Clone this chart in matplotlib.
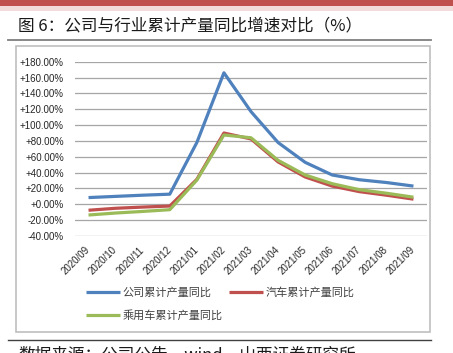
import matplotlib
matplotlib.use("Agg")
import matplotlib.pyplot as plt
from matplotlib.lines import Line2D
from matplotlib.patches import Rectangle
from matplotlib.ticker import FuncFormatter

plt.rcParams['font.family'] = ['Noto Sans CJK SC', 'DejaVu Sans']

# 数据
months = ["2020/09", "2020/10", "2020/11", "2020/12", "2021/01", "2021/02", "2021/03",
          "2021/04", "2021/05", "2021/06", "2021/07", "2021/08", "2021/09"]
company = [8.5, 10.0, 11.5, 12.8, 78.0, 166.0, 117.0, 78.0, 53.0, 37.0, 31.0, 27.5, 23.0]
auto = [-7.5, -5.0, -3.5, -2.2, 31.5, 90.0, 82.5, 53.5, 34.5, 23.0, 16.0, 11.5, 6.5]
passenger = [-13.5, -11.0, -9.0, -6.8, 30.5, 87.5, 84.0, 55.5, 37.0, 26.0, 18.5, 14.0, 9.0]

W, H = 453, 353
fig = plt.figure(figsize=(W / 100, H / 100), dpi=100)


def fx(x):
    return x / W


def fy(y):
    return 1 - y / H


# 顶部色条
fig.patches.append(Rectangle((0, fy(6)), 1, 6 / H, transform=fig.transFigure,
                             facecolor="#C0504D", edgecolor="none"))
fig.patches.append(Rectangle((0, fy(11)), 1, 5 / H, transform=fig.transFigure,
                             facecolor="#F2DCDB", edgecolor="none"))

fig.text(fx(18), fy(26), "图 6：公司与行业累计产量同比增速对比（%）", fontsize=12,
         color="#1a1a1a", va="center", ha="left")
fig.lines.append(Line2D([fx(8), fx(431)], [fy(40), fy(40)], transform=fig.transFigure,
                        color="#7F7F7F", lw=1.3))
fig.patches.append(Rectangle((fx(16), fy(332)), fx(430) - fx(16), fy(46) - fy(332),
                             transform=fig.transFigure, facecolor="none",
                             edgecolor="#BFBFBF", lw=1.2))
fig.lines.append(Line2D([fx(8), fx(431)], [fy(340), fy(340)], transform=fig.transFigure,
                        color="#404040", lw=1.0))
# 底部来源（原图中被截断）
fig.text(fx(18), fy(346), "数据来源：公司公告，wind，山西证券研究所", fontsize=12,
         color="#1a1a1a", va="top", ha="left")

# 图表区
ax = fig.add_axes([fx(75), fy(236), fx(427) - fx(75), fy(61.7) - fy(236)])
x = list(range(len(months)))
l1, = ax.plot(x, company, color="#4F81BD", lw=2.3, solid_capstyle="butt", label="公司累计产量同比")
l2, = ax.plot(x, auto, color="#C0504D", lw=2.3, solid_capstyle="butt", label="汽车累计产量同比")
l3, = ax.plot(x, passenger, color="#9BBB59", lw=2.3, solid_capstyle="butt", label="乘用车累计产量同比")

ax.set_xlim(-0.5, len(months) - 0.5)
ax.set_ylim(-40, 180)
ax.set_yticks(range(-40, 181, 20))
ax.yaxis.set_major_formatter(FuncFormatter(lambda v, p: ("+" if v >= 0 else "") + "%.2f%%" % v))
ax.grid(axis="y", color="#A6A6A6", lw=0.9)
ax.set_axisbelow(True)
for s in ax.spines.values():
    s.set_visible(False)
ax.tick_params(axis="both", length=0, colors="#262626")
ax.tick_params(axis="y", pad=8)
for lab in ax.get_yticklabels():
    lab.set_fontfamily("Liberation Sans")
    lab.set_fontsize(7)
ax.set_xticks(x)
ax.set_xticklabels(months, rotation=45, ha="right", va="center", rotation_mode="anchor",
                   fontfamily="Liberation Sans", fontsize=7)
ax.tick_params(axis="x", pad=9)

# 图例按行排列：第一行 公司、汽车；第二行 乘用车
fig.legend(handles=[l1, l3, l2], loc="upper left", bbox_to_anchor=(fx(82), fy(283)),
           ncol=2, frameon=False, fontsize=8, handlelength=3.0, handletextpad=0.25,
           columnspacing=0.6, labelspacing=1.1, labelcolor="#404040", borderaxespad=0)

fig.savefig("out.png", dpi=100)
